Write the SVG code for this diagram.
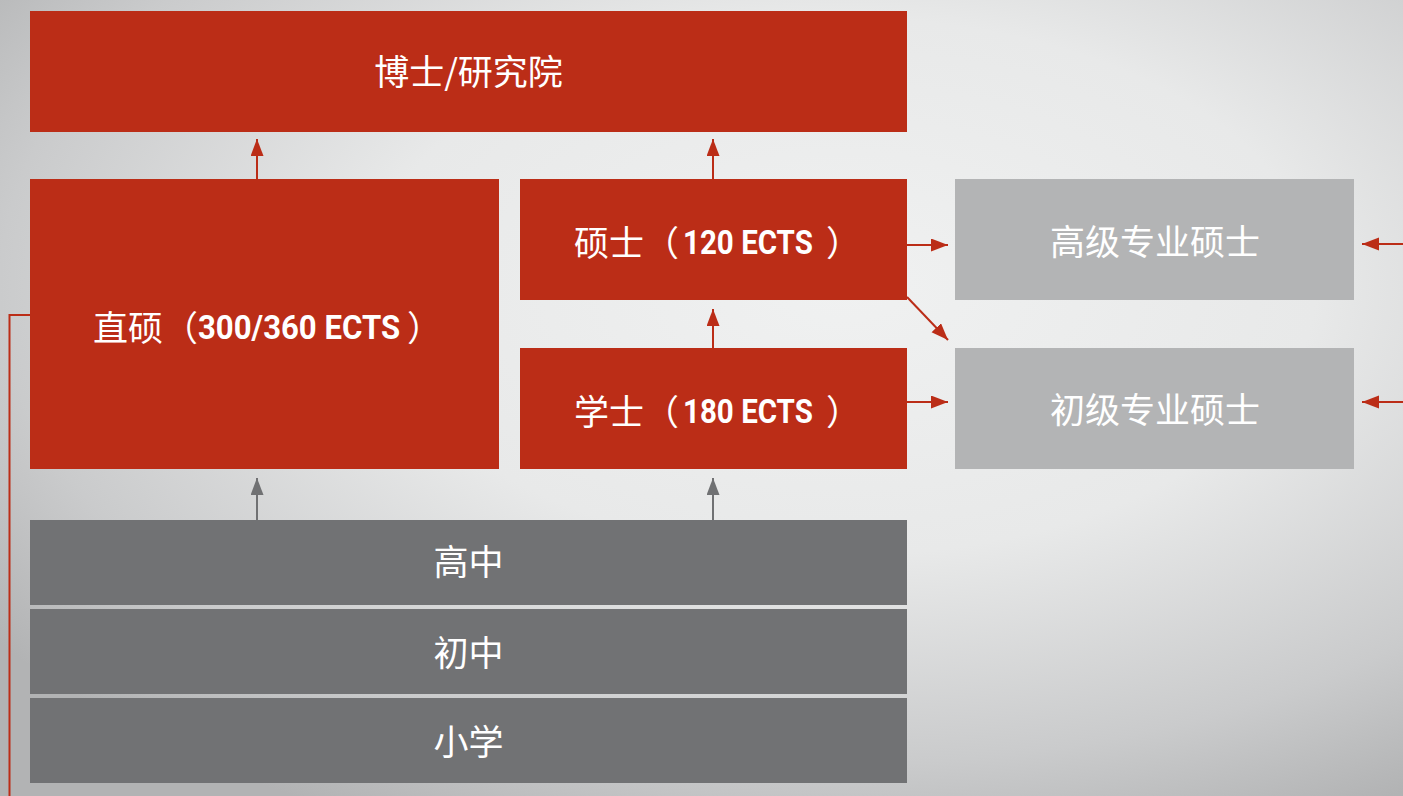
<svg xmlns="http://www.w3.org/2000/svg" width="1403" height="796" viewBox="0 0 1403 796">
  <defs>
    <radialGradient id="bg" cx="0.6" cy="0.36" r="0.75" fx="0.6" fy="0.36">
      <stop offset="0" stop-color="#f0f1f1"/>
      <stop offset="0.45" stop-color="#e8e9e9"/>
      <stop offset="0.8" stop-color="#cacbcc"/>
      <stop offset="1" stop-color="#b2b3b4"/>
    </radialGradient>
    <marker id="ar" markerUnits="userSpaceOnUse" markerWidth="18" markerHeight="14" refX="17" refY="6.5" orient="auto">
      <path d="M0,0 L17,6.5 L0,13 z" fill="#bb2d17"/>
    </marker>
    <marker id="ag" markerUnits="userSpaceOnUse" markerWidth="18" markerHeight="14" refX="17" refY="6.5" orient="auto">
      <path d="M0,0 L17,6.5 L0,13 z" fill="#707173"/>
    </marker>
  </defs>
  <style>
    .red { fill: #bb2d17; }
    .lg { fill: #b3b4b5; }
    .dg { fill: #717274; }
    .t { fill: #ffffff; font-family: "Noto Sans CJK SC", "Noto Sans", sans-serif; font-size: 35px; text-anchor: middle; }
    .s { text-anchor: start; }
    .b { fill: #ffffff; font-family: "Roboto", "Liberation Sans", sans-serif; font-weight: bold; font-size: 33.5px; }
    .cr { stroke: #bb2d17; stroke-width: 2; fill: none; }
    .cg { stroke: #707173; stroke-width: 2; fill: none; }
  </style>
  <rect x="0" y="0" width="1403" height="796" fill="url(#bg)"/>

  <g id="phd">
    <rect class="red" x="30" y="11" width="877" height="121"/>
    <text class="t" x="468.5" y="85">博士/研究院</text>
  </g>
  <g id="integrated-master">
    <rect class="red" x="30" y="179" width="469" height="290"/>
    <text class="t s" x="93" y="341">直硕（</text>
    <text class="b" transform="translate(198,339) scale(0.86,1)" x="0" y="0" textLength="235" lengthAdjust="spacingAndGlyphs">300/360 ECTS</text>
    <text class="t s" x="407" y="341">）</text>
  </g>
  <g id="master">
    <rect class="red" x="520" y="179" width="387" height="121"/>
    <text class="t s" x="574" y="256">硕士（</text>
    <text class="b" transform="translate(683,254) scale(0.86,1)" x="0" y="0" textLength="151" lengthAdjust="spacingAndGlyphs">120 ECTS</text>
    <text class="t s" x="826" y="256">）</text>
  </g>
  <g id="bachelor">
    <rect class="red" x="520" y="348" width="387" height="121"/>
    <text class="t s" x="574" y="425">学士（</text>
    <text class="b" transform="translate(683,423) scale(0.86,1)" x="0" y="0" textLength="151" lengthAdjust="spacingAndGlyphs">180 ECTS</text>
    <text class="t s" x="826" y="425">）</text>
  </g>
  <g id="senior-pro-master">
    <rect class="lg" x="955" y="179" width="399" height="121"/>
    <text class="t" x="1155" y="255">高级专业硕士</text>
  </g>
  <g id="junior-pro-master">
    <rect class="lg" x="955" y="348" width="399" height="121"/>
    <text class="t" x="1155" y="423">初级专业硕士</text>
  </g>
  <g id="high-school">
    <rect class="dg" x="30" y="520" width="877" height="85"/>
    <text class="t" x="468.5" y="575">高中</text>
  </g>
  <g id="middle-school">
    <rect class="dg" x="30" y="609" width="877" height="85"/>
    <text class="t" x="468.5" y="666">初中</text>
  </g>
  <g id="primary-school">
    <rect class="dg" x="30" y="698" width="877" height="85"/>
    <text class="t" x="468.5" y="755">小学</text>
  </g>

  <g id="connectors">
    <line class="cr" x1="257" y1="179" x2="257" y2="139" marker-end="url(#ar)"/>
    <line class="cr" x1="713" y1="179" x2="713" y2="139" marker-end="url(#ar)"/>
    <line class="cr" x1="713" y1="348" x2="713" y2="309" marker-end="url(#ar)"/>
    <line class="cg" x1="257" y1="520" x2="257" y2="478" marker-end="url(#ag)"/>
    <line class="cg" x1="713" y1="520" x2="713" y2="478" marker-end="url(#ag)"/>
    <line class="cr" x1="907" y1="245" x2="948" y2="245" marker-end="url(#ar)"/>
    <line class="cr" x1="907" y1="402" x2="948" y2="402" marker-end="url(#ar)"/>
    <line class="cr" x1="907" y1="297" x2="948" y2="340" marker-end="url(#ar)"/>
    <line class="cr" x1="1403" y1="244" x2="1362" y2="244" marker-end="url(#ar)"/>
    <line class="cr" x1="1403" y1="402" x2="1362" y2="402" marker-end="url(#ar)"/>
    <polyline class="cr" points="30,315 9.5,315 9.5,796"/>
  </g>
</svg>
